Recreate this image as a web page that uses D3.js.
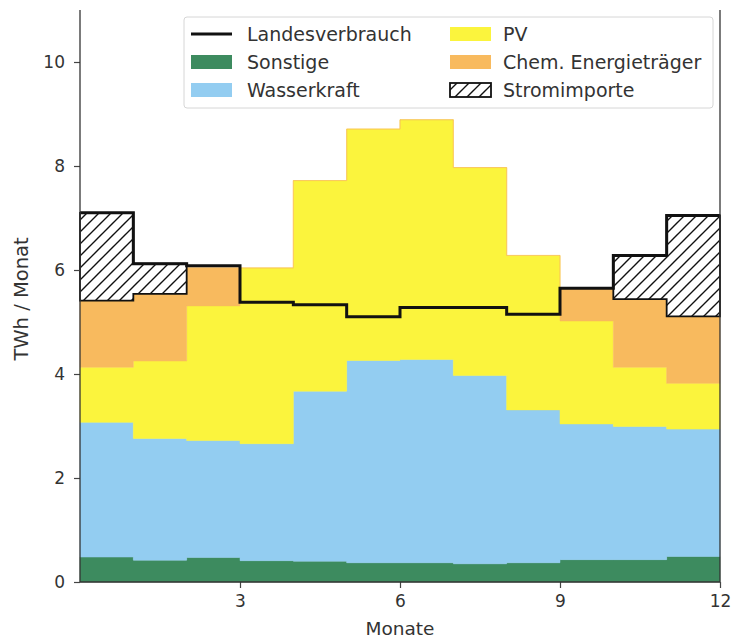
<!DOCTYPE html>
<html>
<head>
<meta charset="utf-8">
<script src="https://cdn.jsdelivr.net/npm/d3@7"></script>
<style>
  html, body { margin: 0; padding: 0; background: #fff; }
  svg { display: block; font-family: "DejaVu Sans", sans-serif; }
</style>
</head>
<body>
<svg id="chart" width="734" height="639"></svg>
<script>
// ---- data (TWh per month) ----
const months = [1, 2, 3, 4, 5, 6, 7, 8, 9, 10, 11, 12];
const sonstige     = [0.48, 0.42, 0.47, 0.41, 0.40, 0.37, 0.37, 0.35, 0.37, 0.43, 0.43, 0.49];
const wasserkraft  = [2.59, 2.34, 2.25, 2.25, 3.27, 3.89, 3.91, 3.62, 2.94, 2.61, 2.56, 2.45];
const pv           = [1.06, 1.49, 2.59, 3.38, 4.05, 4.45, 4.61, 4.00, 2.97, 1.98, 1.14, 0.88];
const chemEnergie  = [1.28, 1.29, 0.74, 0.00, 0.00, 0.00, 0.00, 0.00, 0.00, 0.62, 1.31, 1.29];
const stromimporte = [1.69, 0.58, 0.00, 0.00, 0.00, 0.00, 0.00, 0.00, 0.00, 0.00, 0.84, 1.94];
const landesverbrauch = [7.10, 6.12, 6.08, 5.38, 5.33, 5.10, 5.28, 5.28, 5.15, 5.65, 6.28, 7.05];
const yTicks = [0, 2, 4, 6, 8, 10];
const xTicks = [3, 6, 9, 12];

const seriesKeys = ["sonstige", "wasserkraft", "pv", "chem", "importe"];
const seriesNames = {
  sonstige: "Sonstige", wasserkraft: "Wasserkraft", pv: "PV",
  chem: "Chem. Energieträger", importe: "Stromimporte"
};
const colors = {
  sonstige: "#3d8b5f", wasserkraft: "#93cdf1", pv: "#fbf43d", chem: "#f8ba5e"
};

// table for the stack: one row per step edge (0..12), last edge repeats month 12
const rows = d3.range(months.length + 1).map(i => {
  const j = Math.min(i, months.length - 1);
  return {
    x: i,
    sonstige: sonstige[j], wasserkraft: wasserkraft[j], pv: pv[j],
    chem: chemEnergie[j], importe: stromimporte[j], verbrauch: landesverbrauch[j]
  };
});

// ---- layout ----
const svg = d3.select("#chart");
const margin = { left: 80, right: 14, top: 10, bottom: 57 };
const W = 734, H = 639;
const x = d3.scaleLinear().domain([0, 12]).range([margin.left, W - margin.right]);
const y = d3.scaleLinear().domain([0, 11]).range([H - margin.bottom, margin.top]);

// hatch pattern
const defs = svg.append("defs");
const P = 12;
const pat = defs.append("pattern")
  .attr("id", "hatch").attr("patternUnits", "userSpaceOnUse")
  .attr("width", P).attr("height", P);
pat.append("rect").attr("width", P).attr("height", P).attr("fill", "#fff");
pat.append("path")
  .attr("d", `M-3,3 L3,-3 M0,${P} L${P},0 M${P - 3},${P + 3} L${P + 3},${P - 3}`)
  .attr("stroke", "#111").attr("stroke-width", 1.4);

const stack = d3.stack().keys(seriesKeys);
const stacked = stack(rows);

const area = d3.area()
  .curve(d3.curveStepAfter)
  .x(d => x(d.data.x))
  .y0(d => y(d[0]))
  .y1(d => y(d[1]));

// filled layers
stacked.filter(s => s.key !== "importe").forEach(s => {
  svg.append("path")
    .datum(s)
    .attr("d", area)
    .attr("fill", colors[s.key])
    .attr("stroke", colors[s.key])
    .attr("stroke-width", 0.5);
});

// imports: hatched, outlined, only where > 0 (contiguous runs)
const imp = stacked.find(s => s.key === "importe");
let runs = [], cur = null;
months.forEach((m, i) => {
  if (stromimporte[i] > 0) {
    if (!cur) { cur = []; runs.push(cur); }
    cur.push(i);
  } else cur = null;
});
runs.forEach(run => {
  const pts = run.map(i => imp[i]);
  const last = run[run.length - 1] + 1;
  pts.push(imp[last]);
  const seg = pts.map((p, k) => {
    const o = [p[0], p[1]];
    if (k === pts.length - 1) { o[0] = pts[k - 1][0]; o[1] = pts[k - 1][1]; }
    o.data = p.data;
    return o;
  });
  svg.append("path")
    .datum(seg)
    .attr("d", area)
    .attr("fill", "url(#hatch)")
    .attr("stroke", "#111")
    .attr("stroke-width", 1.8);
});

// consumption line
const line = d3.line()
  .curve(d3.curveStepAfter)
  .x(d => x(d.x))
  .y(d => y(d.verbrauch));
svg.append("path")
  .datum(rows)
  .attr("d", line)
  .attr("fill", "none")
  .attr("stroke", "#111")
  .attr("stroke-width", 3);

// ---- axes ----
const textColor = "#333";
const yAxis = svg.append("g")
  .attr("transform", `translate(${margin.left},0)`)
  .call(d3.axisLeft(y).tickValues(yTicks).tickSize(6).tickPadding(9));
const xAxis = svg.append("g")
  .attr("transform", `translate(0,${H - margin.bottom})`)
  .call(d3.axisBottom(x).tickValues(xTicks).tickSize(6).tickPadding(7));
[yAxis, xAxis].forEach(g => {
  g.select(".domain").remove();
  g.selectAll("line").attr("stroke", "#444").attr("stroke-width", 1.2);
  g.selectAll("text").attr("fill", textColor).attr("font-size", 17)
    .attr("font-family", "DejaVu Sans, sans-serif");
});
// spines: left, right, bottom
svg.append("line").attr("x1", x(0)).attr("x2", x(0)).attr("y1", y(11)).attr("y2", y(0))
  .attr("stroke", "#333").attr("stroke-width", 1.3);
svg.append("line").attr("x1", x(12)).attr("x2", x(12)).attr("y1", y(11)).attr("y2", y(0))
  .attr("stroke", "#333").attr("stroke-width", 1.3);
svg.append("line").attr("x1", x(0)).attr("x2", x(12)).attr("y1", y(0)).attr("y2", y(0))
  .attr("stroke", "#333").attr("stroke-width", 1.3);

svg.append("text")
  .attr("x", (x(0) + x(12)) / 2).attr("y", 635)
  .attr("text-anchor", "middle").attr("font-size", 18.5).attr("fill", textColor)
  .text("Monate");
svg.append("text")
  .attr("transform", `translate(28,299) rotate(-90)`)
  .attr("text-anchor", "middle").attr("font-size", 19.5).attr("fill", textColor)
  .text("TWh / Monat");

// ---- legend ----
const lg = svg.append("g");
lg.append("rect")
  .attr("x", 184).attr("y", 17).attr("width", 529).attr("height", 91)
  .attr("rx", 3).attr("fill", "#fff").attr("fill-opacity", 0.9)
  .attr("stroke", "#d6d6d6").attr("stroke-width", 1);
const legendItems = [
  { label: "Landesverbrauch", type: "line", col: 0, row: 0 },
  { label: seriesNames.sonstige, type: "sonstige", col: 0, row: 1 },
  { label: seriesNames.wasserkraft, type: "wasserkraft", col: 0, row: 2 },
  { label: seriesNames.pv, type: "pv", col: 1, row: 0 },
  { label: seriesNames.chem, type: "chem", col: 1, row: 1 },
  { label: seriesNames.importe, type: "importe", col: 1, row: 2 }
];
const colX = [191, 450], rowY = [34, 62, 90];
legendItems.forEach(it => {
  const hx = colX[it.col], cy = rowY[it.row];
  if (it.type === "line") {
    lg.append("line").attr("x1", hx).attr("x2", hx + 41).attr("y1", cy).attr("y2", cy)
      .attr("stroke", "#111").attr("stroke-width", 3);
  } else if (it.type === "importe") {
    lg.append("rect").attr("x", hx).attr("y", cy - 7).attr("width", 41).attr("height", 14)
      .attr("fill", "url(#hatch)").attr("stroke", "#111").attr("stroke-width", 1.8);
  } else {
    lg.append("rect").attr("x", hx).attr("y", cy - 7).attr("width", 41).attr("height", 14)
      .attr("fill", colors[it.type]);
  }
  lg.append("text").attr("x", hx + (it.col === 0 ? 56 : 53)).attr("y", cy + 7)
    .attr("font-size", 19).attr("fill", textColor).text(it.label);
});
</script>
</body>
</html>
